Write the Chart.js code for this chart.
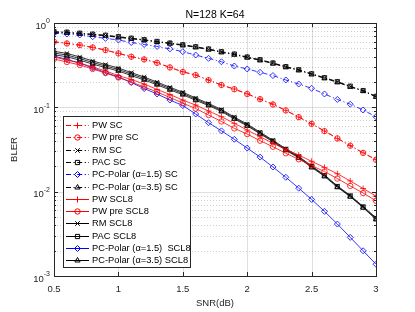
<!DOCTYPE html>
<html>
<head>
<meta charset="utf-8">
<script src="https://cdn.jsdelivr.net/npm/chart.js@4.4.1/dist/chart.umd.min.js"></script>
<style>
  html, body { margin: 0; padding: 0; background: #fff; }
  #wrap { width: 415px; height: 312px; }
</style>
</head>
<body>
<div id="wrap"><canvas id="c" width="415" height="312"></canvas></div>
<script>
// --- data ---
const snr = [0.5, 0.6, 0.7, 0.8, 0.9, 1.0, 1.1, 1.2, 1.3, 1.4, 1.5, 1.6, 1.7, 1.8, 1.9, 2.0, 2.1, 2.2, 2.3, 2.4, 2.5, 2.6, 2.7, 2.8, 2.9, 3.0];

const pwSC     = [0.600, 0.574, 0.548, 0.515, 0.478, 0.437, 0.398, 0.371, 0.338, 0.298, 0.264, 0.242, 0.211, 0.184, 0.165, 0.145, 0.125, 0.109, 0.0921, 0.0767, 0.0639, 0.0524, 0.0429, 0.0352, 0.0289, 0.0240];
const pwPreSC  = [0.598, 0.572, 0.546, 0.513, 0.477, 0.436, 0.398, 0.370, 0.337, 0.297, 0.263, 0.241, 0.210, 0.184, 0.164, 0.144, 0.125, 0.108, 0.0918, 0.0765, 0.0637, 0.0522, 0.0428, 0.0351, 0.0288, 0.0239];
const rmSC     = [0.782, 0.772, 0.750, 0.731, 0.711, 0.682, 0.655, 0.629, 0.600, 0.574, 0.548, 0.519, 0.488, 0.453, 0.425, 0.392, 0.364, 0.333, 0.301, 0.277, 0.248, 0.223, 0.200, 0.176, 0.157, 0.134];
const pacSC    = [0.790, 0.778, 0.757, 0.737, 0.716, 0.688, 0.660, 0.634, 0.605, 0.578, 0.552, 0.523, 0.492, 0.457, 0.428, 0.395, 0.367, 0.336, 0.304, 0.279, 0.250, 0.225, 0.202, 0.178, 0.158, 0.135];
const pc15SC   = [0.755, 0.740, 0.721, 0.688, 0.658, 0.629, 0.587, 0.556, 0.527, 0.494, 0.457, 0.417, 0.381, 0.347, 0.309, 0.285, 0.260, 0.238, 0.211, 0.189, 0.168, 0.144, 0.124, 0.109, 0.0929, 0.0774];
const pc35SC   = [0.775, 0.765, 0.744, 0.725, 0.705, 0.676, 0.650, 0.624, 0.595, 0.569, 0.543, 0.515, 0.484, 0.449, 0.421, 0.389, 0.361, 0.330, 0.299, 0.275, 0.246, 0.221, 0.198, 0.175, 0.156, 0.133];

const pwSCL8    = [0.395, 0.364, 0.335, 0.301, 0.270, 0.238, 0.214, 0.189, 0.163, 0.142, 0.122, 0.1065, 0.0904, 0.0774, 0.0646, 0.0538, 0.0448, 0.0374, 0.0318, 0.0272, 0.0229, 0.0194, 0.0163, 0.0134, 0.0109, 0.00887];
const pwPreSCL8 = [0.374, 0.345, 0.318, 0.285, 0.255, 0.226, 0.200, 0.174, 0.152, 0.131, 0.112, 0.0968, 0.0810, 0.0680, 0.0563, 0.0482, 0.0402, 0.0341, 0.0285, 0.0242, 0.0204, 0.0173, 0.0143, 0.0117, 0.00963, 0.00780];
const rmSCL8    = [0.462, 0.436, 0.396, 0.355, 0.322, 0.293, 0.258, 0.229, 0.199, 0.173, 0.151, 0.129, 0.111, 0.0943, 0.0767, 0.0633, 0.0508, 0.0407, 0.0323, 0.0262, 0.0202, 0.0158, 0.0117, 0.00902, 0.00668, 0.00492];
const pacSCL8   = [0.441, 0.417, 0.379, 0.340, 0.309, 0.281, 0.248, 0.220, 0.192, 0.167, 0.146, 0.125, 0.108, 0.0917, 0.0747, 0.0617, 0.0496, 0.0398, 0.0316, 0.0257, 0.0198, 0.0155, 0.0115, 0.00887, 0.00657, 0.00480];
const pc15SCL8  = [0.406, 0.369, 0.335, 0.293, 0.259, 0.229, 0.197, 0.167, 0.144, 0.122, 0.105, 0.0833, 0.0657, 0.0526, 0.0418, 0.0329, 0.0257, 0.0196, 0.0148, 0.0110, 0.00810, 0.00584, 0.00413, 0.00287, 0.00199, 0.00138];
const pc35SCL8  = [0.420, 0.398, 0.362, 0.326, 0.296, 0.270, 0.238, 0.211, 0.185, 0.161, 0.141, 0.121, 0.105, 0.0892, 0.0728, 0.0602, 0.0485, 0.0390, 0.0310, 0.0252, 0.0194, 0.0152, 0.0113, 0.00872, 0.00646, 0.00468];

const xTicks = [0.5, 1, 1.5, 2, 2.5, 3];
const yDecades = [0.001, 0.01, 0.1, 1];
const yTickExp = ['-3', '-2', '-1', '0'];

const FONT = '"Liberation Sans", Arial, Helvetica, sans-serif';
const TXT = '#262626';
const RED = '#ff0000', BLUE = '#0000ff', BLACK = '#000000';
const DASHDOT = [5, 2.5, 1.2, 2.5];

function series(label, data, color, marker, dashed, r) {
  return {
    label, data, borderColor: color, backgroundColor: color,
    borderWidth: 0.8, borderDash: dashed ? DASHDOT : [],
    pointStyle: marker, pointRadius: r || 3, pointBorderWidth: 0.8,
    pointBackgroundColor: 'rgba(0,0,0,0)', pointBorderColor: color,
    pointHoverRadius: r || 3, tension: 0, fill: false
  };
}

// simple marker drawer for the legend samples
function marker(ctx, style, x, y, r) {
  ctx.beginPath();
  if (style === 'cross') {
    ctx.moveTo(x - r, y); ctx.lineTo(x + r, y);
    ctx.moveTo(x, y - r); ctx.lineTo(x, y + r);
  } else if (style === 'crossRot') {
    const d = r * 0.75;
    ctx.moveTo(x - d, y - d); ctx.lineTo(x + d, y + d);
    ctx.moveTo(x + d, y - d); ctx.lineTo(x - d, y + d);
  } else if (style === 'circle') {
    ctx.arc(x, y, r, 0, Math.PI * 2);
  } else if (style === 'rect') {
    const s = r * Math.SQRT1_2;
    ctx.rect(x - s, y - s, 2 * s, 2 * s);
  } else if (style === 'rectRot') {
    ctx.moveTo(x - r, y); ctx.lineTo(x, y - r); ctx.lineTo(x + r, y); ctx.lineTo(x, y + r); ctx.closePath();
  } else if (style === 'triangle') {
    ctx.moveTo(x, y - r); ctx.lineTo(x + r * 0.87, y + r * 0.5); ctx.lineTo(x - r * 0.87, y + r * 0.5); ctx.closePath();
  }
  ctx.stroke();
}

function hline(ctx, x1, x2, y) { ctx.beginPath(); ctx.moveTo(x1, y); ctx.lineTo(x2, y); ctx.stroke(); }
function vline(ctx, x, y1, y2) { ctx.beginPath(); ctx.moveTo(x, y1); ctx.lineTo(x, y2); ctx.stroke(); }

const matlabAxes = {
  id: 'matlabAxes',
  beforeDatasetsDraw(chart) {
    const { ctx, chartArea: a, scales: { x, y } } = chart;
    ctx.save();
    ctx.lineWidth = 1;
    // minor grid, dotted
    ctx.strokeStyle = 'rgba(38,38,38,0.22)';
    ctx.setLineDash([1, 2]);
    yDecades.forEach(d => {
      for (let k = 2; k < 10; k++) {
        if (d * k > y.max) continue;
        hline(ctx, a.left, a.right, Math.round(y.getPixelForValue(d * k)) + 0.5);
      }
    });
    // major grid
    ctx.setLineDash([]);
    ctx.strokeStyle = 'rgba(38,38,38,0.15)';
    yDecades.forEach(d => hline(ctx, a.left, a.right, Math.round(y.getPixelForValue(d)) + 0.5));
    xTicks.forEach(t => vline(ctx, Math.round(x.getPixelForValue(t)) + 0.5, a.top, a.bottom));
    ctx.restore();
  },
  afterDraw(chart) {
    const { ctx, chartArea: a, scales: { x, y } } = chart;
    ctx.save();
    // box
    ctx.strokeStyle = TXT;
    ctx.lineWidth = 1;
    ctx.strokeRect(Math.round(a.left) + 0.5, Math.round(a.top) + 0.5, Math.round(a.right - a.left), Math.round(a.bottom - a.top));
    // inward tick marks
    xTicks.forEach(t => {
      const px = Math.round(x.getPixelForValue(t)) + 0.5;
      vline(ctx, px, a.bottom, a.bottom - 4);
      vline(ctx, px, a.top, a.top + 4);
    });
    yDecades.forEach(d => {
      for (let k = 1; k < 10; k++) {
        if (d * k > y.max) continue;
        const py = Math.round(y.getPixelForValue(d * k)) + 0.5;
        const len = k === 1 ? 4 : 2;
        hline(ctx, a.left, a.left + len, py);
        hline(ctx, a.right - len, a.right, py);
      }
    });
    // x tick labels
    ctx.fillStyle = TXT;
    ctx.font = '9.5px ' + FONT;
    ctx.textAlign = 'center';
    ctx.textBaseline = 'middle';
    xTicks.forEach(t => ctx.fillText(String(t), x.getPixelForValue(t), a.bottom + 13));
    // y tick labels 10^n
    yDecades.forEach((d, i) => {
      const py = y.getPixelForValue(d);
      ctx.font = '7px ' + FONT;
      const ew = ctx.measureText(yTickExp[i]).width;
      ctx.textAlign = 'left';
      ctx.fillText(yTickExp[i], a.left - 4 - ew, py - 1.5);
      ctx.font = '9.5px ' + FONT;
      ctx.textAlign = 'right';
      ctx.fillText('10', a.left - 4 - ew, py + 3);
    });
    // axis labels and title
    ctx.textAlign = 'center';
    ctx.font = '9.5px ' + FONT;
    ctx.fillText('SNR(dB)', (a.left + a.right) / 2, 303);
    ctx.save();
    ctx.translate(14, (a.top + a.bottom) / 2);
    ctx.rotate(-Math.PI / 2);
    ctx.fillText('BLER', 0, 0);
    ctx.restore();
    ctx.fillStyle = '#000';
    ctx.font = '10.5px ' + FONT;
    ctx.fillText('N=128 K=64', (a.left + a.right) / 2, 15);

    // legend box
    const lx = 63.5, ly = 116.5, lw = 127, lh = 151;
    ctx.fillStyle = '#fff';
    ctx.fillRect(lx, ly, lw, lh);
    ctx.strokeStyle = TXT;
    ctx.strokeRect(lx, ly, lw, lh);
    ctx.font = '9.3px ' + FONT;
    ctx.textAlign = 'left';
    chart.data.datasets.forEach((ds, i) => {
      const cy = 125 + i * 12.3;
      ctx.strokeStyle = ds.borderColor;
      ctx.lineWidth = 1;
      ctx.setLineDash(ds.borderDash);
      hline(ctx, 66, 89, Math.round(cy) + 0.5);
      ctx.setLineDash([]);
      marker(ctx, ds.pointStyle, 77.5, Math.round(cy) + 0.5, ds.pointRadius);
      ctx.fillStyle = '#000';
      ctx.fillText(ds.label, 92, cy + 0.5);
    });
    ctx.restore();
  }
};

new Chart(document.getElementById('c'), {
  type: 'line',
  data: {
    labels: snr,
    datasets: [
      series('PW SC', pwSC, RED, 'cross', true),
      series('PW pre SC', pwPreSC, RED, 'circle', true, 2.7),
      series('RM SC', rmSC, BLACK, 'crossRot', true),
      series('PAC SC', pacSC, BLACK, 'rect', true),
      series('PC-Polar (α=1.5) SC', pc15SC, BLUE, 'rectRot', true),
      series('PC-Polar (α=3.5) SC', pc35SC, BLACK, 'triangle', true),
      series('PW SCL8', pwSCL8, RED, 'cross', false),
      series('PW pre SCL8', pwPreSCL8, RED, 'circle', false, 2.7),
      series('RM SCL8', rmSCL8, BLACK, 'crossRot', false),
      series('PAC SCL8', pacSCL8, BLACK, 'rect', false),
      series('PC-Polar (α=1.5)  SCL8', pc15SCL8, BLUE, 'rectRot', false),
      series('PC-Polar (α=3.5) SCL8', pc35SCL8, BLACK, 'triangle', false)
    ]
  },
  options: {
    responsive: false,
    devicePixelRatio: 1,
    animation: false,
    layout: { padding: { left: 0, right: 39, top: 23, bottom: 0 } },
    plugins: { legend: { display: false }, title: { display: false }, tooltip: { enabled: false } },
    scales: {
      x: {
        type: 'linear', min: 0.5, max: 3,
        ticks: { display: false, stepSize: 0.5 },
        grid: { display: false },
        border: { display: false },
        afterFit: s => { s.height = 36; }
      },
      y: {
        type: 'logarithmic', min: 0.001, max: 1,
        ticks: { display: false },
        grid: { display: false },
        border: { display: false },
        afterFit: s => { s.width = 54; }
      }
    }
  },
  plugins: [matlabAxes]
});
</script>
</body>
</html>
